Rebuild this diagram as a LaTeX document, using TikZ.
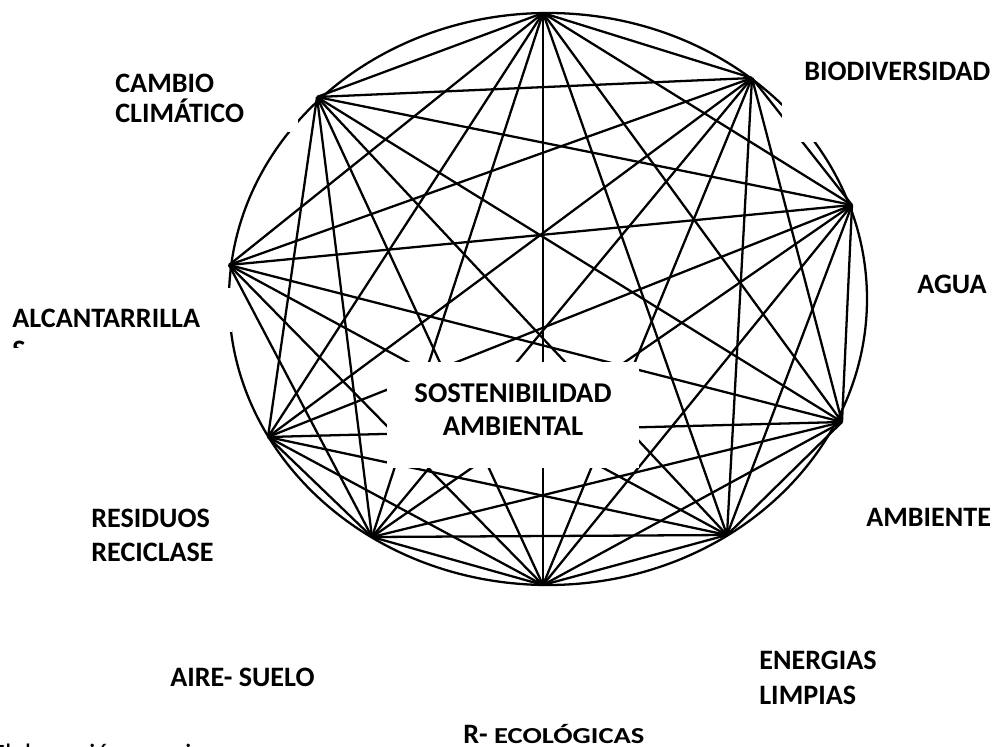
\documentclass[tikz,border=0pt]{standalone}
\usepackage{fontspec}
\setmainfont{Carlito}
\begin{document}
\begin{tikzpicture}[x=0.02cm,y=-0.02cm,
  edge/.style={line width=1.3pt,line join=round},
  mask/.style={fill=white,draw=none},
  lbl/.style={font=\fontsize{16}{19}\selectfont\bfseries,inner sep=0pt,anchor=base west},
  clbl/.style={font=\fontsize{16.3}{19}\selectfont\bfseries,inner sep=0pt,anchor=base}]
\useasboundingbox (0,0) rectangle (992,747);
% vertices
\coordinate (A) at (543,13);
\coordinate (B) at (752,78);
\coordinate (C) at (852,205);
\coordinate (D) at (842,422);
\coordinate (J) at (727,535);
\coordinate (E) at (543,585);
\coordinate (F) at (372,537);
\coordinate (G) at (268,437);
\coordinate (H) at (229,265);
\coordinate (I) at (317,97);
\coordinate (O) at (548,299);
% ellipse
\draw[edge] (O) ellipse [x radius=319, y radius=286];
% chords
\foreach \p/\q in {A/B,A/C,A/D,A/J,A/E,A/F,A/G,A/H,A/I,
  B/C,B/D,B/J,B/E,B/F,B/G,B/H,B/I,
  C/D,C/J,C/E,C/F,C/G,C/H,C/I,
  D/J,D/E,D/F,D/G,D/H,D/I,
  J/E,J/F,J/G,J/H,J/I,
  E/F,E/G,E/H,E/I,
  F/G,F/H,F/I,
  G/I}
  \draw[edge] (\p) -- (\q);
% white label boxes
\fill[mask] (90,40) rectangle (298,132);
\fill[mask] (782,30) rectangle (992,142);
\fill[mask] (0,288) rectangle (232,332);
\fill[mask] (387,362) rectangle (639,468);
% labels
\node[lbl] (cambio1) at (115,92) {CAMBIO};
\node[lbl] (cambio2) at (115,122) {CLIMÁTICO};
\node[lbl] (bio) at (804,80) {BIODIVERSIDAD};
\node[lbl] (agua) at (917,293) {AGUA};
\node[lbl] (alc) at (12,327) {ALCANTARRILLA};
\begin{scope}
  \clip (0,300) rectangle (100,347);
  \node[lbl] (alcs) at (12,359) {S};
\end{scope}
\node[clbl] (sost1) at (513,402) {SOSTENIBILIDAD};
\node[clbl] (sost2) at (513,435) {AMBIENTAL};
\node[lbl] (res1) at (91,527) {RESIDUOS};
\node[lbl] (res2) at (91,561) {RECICLASE};
\node[lbl] (amb) at (866,526) {AMBIENTE};
\node[lbl] (aire) at (170,686) {AIRE- SUELO};
\node[lbl] (ener1) at (759,669) {ENERGIAS};
\node[lbl] (ener2) at (759,704) {LIMPIAS};
\node[lbl] (reco) at (463,743) {R- \scalebox{1.25}[1]{\fontsize{13}{15}\selectfont ECOLÓGICAS}};
\begin{scope}
  \clip (0,0) rectangle (992,747);
  \node[inner sep=0pt,anchor=base west,font=\fontsize{16}{19}\selectfont] (src) at (-9,763) {Elaboración propia};
\end{scope}
\end{tikzpicture}
\end{document}
